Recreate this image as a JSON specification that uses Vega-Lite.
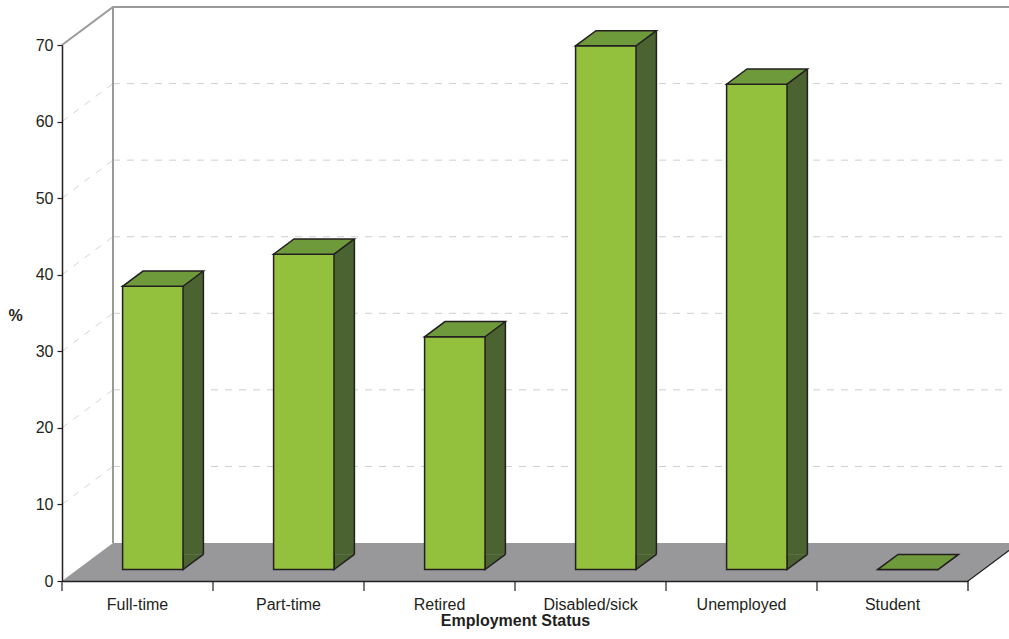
{
  "$schema": "https://vega.github.io/schema/vega-lite/v6.json",
  "width": 906,
  "height": 536,
  "autosize": {"type": "none"},
  "padding": {"left": 62, "top": 45, "right": 41, "bottom": 58},
  "background": "white",
  "config": {"font": "Liberation Sans", "view": {"stroke": null}},
  "datasets": {
    "bars": [
      {"status": "Full-time", "value": 37.0},
      {"status": "Part-time", "value": 41.2},
      {"status": "Retired", "value": 30.4},
      {"status": "Disabled/sick", "value": 68.4},
      {"status": "Unemployed", "value": 63.4},
      {"status": "Student", "value": 0}
    ],
    "ticks": [{"v": 10}, {"v": 20}, {"v": 30}, {"v": 40}, {"v": 50}, {"v": 60}, {"v": 70}]
  },
  "layer": [
    {
      "data": {"name": "bars"},
      "transform": [{"filter": "datum.status === 'Full-time'"}],
      "mark": {"type": "point", "shape": "M-75.5,0 L-24.5,-38 L881.5,-38 L830.5,0 Z", "size": 4, "filled": true, "fill": "#98989b", "strokeWidth": 0, "opacity": 1},
      "encoding": {
        "x": {"field": "status", "type": "nominal"},
        "y": {"datum": 0, "type": "quantitative"}
      }
    },
    {
      "data": {"name": "ticks"},
      "transform": [{"filter": "datum.v < 70"}],
      "mark": {"type": "point", "shape": "M-24.5,-38 L881.5,-38", "size": 4, "filled": false, "stroke": "#cfcfcf", "strokeWidth": 1, "strokeDash": [7, 7], "opacity": 1},
      "encoding": {"x": {"datum": "Full-time", "type": "nominal"}, "y": {"field": "v", "type": "quantitative"}}
    },
    {
      "data": {"name": "ticks"},
      "transform": [{"filter": "datum.v < 70"}],
      "mark": {"type": "point", "shape": "M-75.5,0 L-24.5,-38", "size": 4, "filled": false, "stroke": "#d5d5d5", "strokeWidth": 1, "strokeDash": [7, 7], "opacity": 1},
      "encoding": {"x": {"datum": "Full-time", "type": "nominal"}, "y": {"field": "v", "type": "quantitative"}}
    },
    {
      "data": {"name": "ticks"},
      "transform": [{"filter": "datum.v == 70"}],
      "mark": {"type": "point", "shape": "M-75.5,0 L-24.5,-38 L881.5,-38", "size": 4, "filled": false, "stroke": "#9a9a9a", "strokeWidth": 2, "opacity": 1},
      "encoding": {"x": {"datum": "Full-time", "type": "nominal"}, "y": {"field": "v", "type": "quantitative"}}
    },
    {
      "data": {"name": "ticks"},
      "transform": [{"filter": "datum.v == 70"}],
      "mark": {"type": "bar", "width": 2, "fill": "#9a9a9a", "xOffset": -24.5, "yOffset": -38, "y2Offset": -38},
      "encoding": {"x": {"datum": "Full-time", "type": "nominal"}, "y": {"field": "v", "type": "quantitative"}}
    },
    {
      "data": {"name": "bars"},
      "mark": {"type": "point", "shape": "M-75.5,0 L-75.5,10", "size": 4, "filled": false, "stroke": "#231f20", "strokeWidth": 1.2, "opacity": 1},
      "encoding": {"x": {"field": "status", "type": "nominal"}, "y": {"datum": 0, "type": "quantitative"}}
    },
    {
      "data": {"name": "bars"},
      "transform": [{"filter": "datum.status === 'Student'"}],
      "mark": {"type": "point", "shape": "M75.5,10 L75.5,0 L126.5,-38", "size": 4, "filled": false, "stroke": "#231f20", "strokeWidth": 1.3, "opacity": 1},
      "encoding": {"x": {"field": "status", "type": "nominal"}, "y": {"datum": 0, "type": "quantitative"}}
    },
    {
      "data": {"name": "bars"},
      "mark": {"type": "bar", "width": 20.4, "xOffset": 55.7, "yOffset": -26.6, "y2Offset": -26.6, "fill": "#4b6331", "strokeWidth": 0},
      "encoding": {"x": {"field": "status", "type": "nominal"}, "y": {"field": "value", "type": "quantitative"}}
    },
    {
      "data": {"name": "bars"},
      "mark": {"type": "point", "shape": "M45.5,-26.6 L45.5,-11.4 L65.9,-26.6", "size": 4, "filled": true, "fill": "#4b6331", "stroke": "#231f20", "strokeWidth": 1.5, "opacity": 1},
      "encoding": {"x": {"field": "status", "type": "nominal"}, "y": {"datum": 0, "type": "quantitative"}}
    },
    {
      "data": {"name": "bars"},
      "mark": {"type": "bar", "width": 1.5, "xOffset": 65.9, "yOffset": -26.6, "y2Offset": -26.6, "fill": "#231f20"},
      "encoding": {"x": {"field": "status", "type": "nominal"}, "y": {"field": "value", "type": "quantitative"}}
    },
    {
      "data": {"name": "bars"},
      "mark": {"type": "bar", "width": 60.4, "xOffset": 15.3, "yOffset": -11.4, "y2Offset": -11.4, "fill": "#94c13d", "stroke": "#231f20", "strokeWidth": 1.5},
      "encoding": {
        "x": {"field": "status", "type": "nominal", "scale": {"type": "band", "domain": ["Full-time", "Part-time", "Retired", "Disabled/sick", "Unemployed", "Student"], "paddingInner": 0, "paddingOuter": 0},
          "axis": {"title": "Employment Status", "labelAngle": 0, "labelAlign": "center", "labelFlush": false, "labelFontSize": 16, "labelColor": "#231f20", "labelPadding": 13, "ticks": true, "tickSize": 10, "tickOpacity": 0, "domainColor": "#231f20", "domainWidth": 1.5, "titleFontSize": 16, "titleFontWeight": "bold", "titleColor": "#231f20", "titlePadding": 0, "zindex": 1}},
        "y": {"field": "value", "type": "quantitative", "scale": {"domain": [0, 70], "nice": false, "zero": true},
          "axis": {"title": "%", "titleAngle": 0, "titleX": -47, "titleY": 270, "titleAlign": "center", "titleBaseline": "middle", "titleFontSize": 16, "titleFontWeight": "bold", "titleColor": "#231f20", "values": [0, 10, 20, 30, 40, 50, 60, 70], "tickSize": 5, "tickColor": "#231f20", "tickWidth": 1.2, "labelPadding": 4, "labelFontSize": 16, "labelColor": "#231f20", "grid": false, "domainColor": "#231f20", "domainWidth": 1.5, "zindex": 1}}
      }
    },
    {
      "data": {"name": "bars"},
      "mark": {"type": "point", "shape": "M-14.9,-11.4 L45.5,-11.4 L65.9,-26.6 L5.5,-26.6 Z", "size": 4, "filled": true, "fill": "#6f9a3b", "stroke": "#231f20", "strokeWidth": 1.5, "opacity": 1},
      "encoding": {"x": {"field": "status", "type": "nominal"}, "y": {"field": "value", "type": "quantitative"}}
    }
  ]
}
